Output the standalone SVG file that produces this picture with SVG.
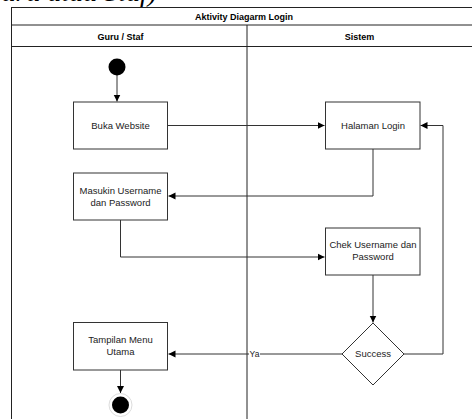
<svg xmlns="http://www.w3.org/2000/svg" width="472" height="419" viewBox="0 0 472 419">
<style>
.frame{fill:none;stroke:#222;stroke-width:1}
.node{fill:#fff;stroke:#333;stroke-width:1}
.lbl{font-family:"Liberation Sans",Arial,sans-serif;font-size:9.5px;fill:#222;text-anchor:middle}
.hdr{font-family:"Liberation Sans",Arial,sans-serif;font-size:9px;font-weight:bold;fill:#000;text-anchor:middle}
.edge{fill:none;stroke:#333;stroke-width:1}
</style>
<defs>
<marker id="arr" markerWidth="8" markerHeight="8" refX="7" refY="4" orient="auto" markerUnits="userSpaceOnUse">
<path d="M0,0.5 L7,4 L0,7.5 Z" fill="#000"/>
</marker>
</defs>
<rect width="472" height="419" fill="#fff"/>
<text x="157" y="1" font-family="'Liberation Serif',serif" font-style="italic" font-size="28" text-anchor="end" fill="#000">(Guru atau Staf)</text>
<g id="pool">
<rect class="frame" x="11.5" y="7.5" width="470" height="430"/>
<line class="frame" x1="11.5" y1="25" x2="472" y2="25"/>
<line class="frame" x1="11.5" y1="46.5" x2="472" y2="46.5"/>
<line class="frame" x1="247" y1="25" x2="247" y2="419"/>
<text class="hdr" x="244" y="19.5">Aktivity Diagarm Login</text>
<text class="hdr" x="120.5" y="39.5">Guru / Staf</text>
<text class="hdr" x="359.5" y="39.5">Sistem</text>
</g>
<g id="connectors">
<line class="edge" x1="117" y1="75" x2="117" y2="101.5" marker-end="url(#arr)"/>
<line class="edge" x1="168" y1="125.5" x2="324.5" y2="125.5" marker-end="url(#arr)"/>
<polyline class="edge" points="373,149 373,196 168.5,196" marker-end="url(#arr)"/>
<polyline class="edge" points="120.5,220 120.5,257 324.5,257" marker-end="url(#arr)"/>
<line class="edge" x1="373" y1="275" x2="373" y2="322.5" marker-end="url(#arr)"/>
<polyline class="edge" points="404,354 443,354 443,125.5 420.5,125.5" marker-end="url(#arr)"/>
<line class="edge" x1="342" y1="354" x2="168.5" y2="354" marker-end="url(#arr)"/>
<rect x="249" y="349" width="11" height="10" fill="#fff"/>
<text class="lbl" x="254.5" y="357" style="font-size:8.5px">Ya</text>
<line class="edge" x1="120.5" y1="370" x2="120.5" y2="393" marker-end="url(#arr)"/>
</g>
<g id="start"><circle cx="117" cy="67" r="8.5" fill="#000"/></g>
<g id="buka">
<rect class="node" x="73.5" y="102" width="94" height="47"/>
<text class="lbl" x="120.5" y="128.5">Buka Website</text>
</g>
<g id="halaman">
<rect class="node" x="325.5" y="102" width="94.5" height="47"/>
<text class="lbl" x="373" y="128.5">Halaman Login</text>
</g>
<g id="masukin">
<rect class="node" x="73.5" y="173" width="94" height="47"/>
<text class="lbl" x="120.5" y="193.5">Masukin Username</text>
<text class="lbl" x="120.5" y="205.5">dan Password</text>
</g>
<g id="chek">
<rect class="node" x="325.5" y="228" width="94.5" height="47"/>
<text class="lbl" x="373" y="248">Chek Username dan</text>
<text class="lbl" x="373" y="260">Password</text>
</g>
<g id="success">
<polygon class="node" points="373,323 404,354 373,385 342,354"/>
<text class="lbl" x="373" y="357">Success</text>
</g>
<g id="tampilan">
<rect class="node" x="73.5" y="322.5" width="94" height="47.5"/>
<text class="lbl" x="120.5" y="343">Tampilan Menu</text>
<text class="lbl" x="120.5" y="355">Utama</text>
</g>
<g id="end">
<circle cx="120.5" cy="405" r="11.5" fill="#fff" stroke="#ddd" stroke-width="1"/>
<circle cx="120.5" cy="405" r="8.5" fill="#000"/>
</g>
</svg>
